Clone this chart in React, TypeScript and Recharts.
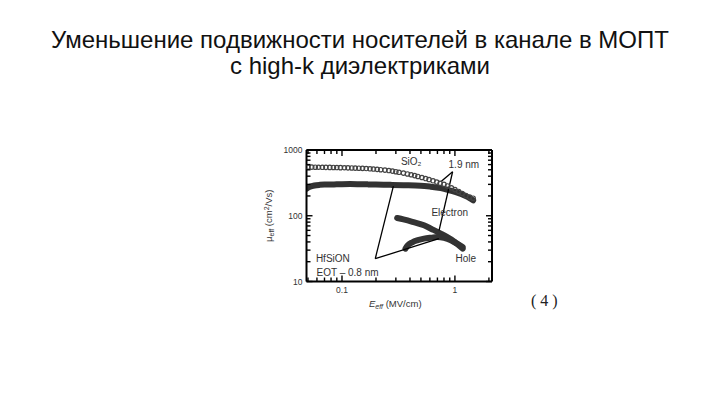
import React from 'react';
import { ComposedChart, Line, Scatter, XAxis, YAxis, ReferenceDot, Label } from 'recharts';

// SiO2, electrons (open circles)
const sio2ElecE = [0.05, 0.054, 0.058, 0.062, 0.067, 0.072, 0.078, 0.084, 0.09, 0.097, 0.105, 0.113, 0.122, 0.131, 0.141, 0.152, 0.164, 0.177, 0.19, 0.205, 0.22, 0.24, 0.26, 0.28, 0.3, 0.32, 0.35, 0.38, 0.41, 0.44, 0.47, 0.51, 0.55, 0.59, 0.64, 0.69, 0.74, 0.8, 0.86, 0.93, 1.0, 1.08, 1.16, 1.25, 1.35, 1.45];
const sio2ElecMu = [550, 549, 548, 547, 546, 545, 544, 543, 541, 539, 537, 535, 533, 531, 529, 526, 522, 518, 513, 508, 502, 495, 487, 478, 468, 458, 445, 432, 420, 408, 396, 382, 368, 355, 340, 325, 312, 300, 284, 266, 250, 234, 218, 203, 192, 185];

// HfSiON, electrons (dark band)
const hfElecE = [0.0486, 0.052, 0.057, 0.0637, 0.072, 0.085, 0.1, 0.118, 0.14, 0.17, 0.2, 0.268, 0.35, 0.497, 0.6, 0.75, 0.88, 1.02, 1.15, 1.25, 1.35, 1.45];
const hfElecMu = [258, 275, 288, 295, 298, 300, 302, 303, 302, 300, 298, 295, 292, 287, 278, 263, 246, 229, 212, 199, 186, 172];

// SiO2, holes
const sio2HoleE = [0.308, 0.35, 0.42, 0.532, 0.62, 0.75, 0.9, 1.02, 1.17];
const sio2HoleMu = [92.5, 88, 81, 71.6, 63, 53.5, 45, 39, 33.4];

// HfSiON, holes
const hfHoleE = [0.365, 0.38, 0.42, 0.47, 0.532, 0.62, 0.7, 0.8, 0.92, 1.05, 1.17];
const hfHoleMu = [31.6, 35, 39.5, 42.5, 44.9, 46.5, 47.5, 46, 42.3, 37, 31.6];

// annotation lines
const hfLineA = [{ x: 0.197, y: 22.2 }, { x: 0.285, y: 282 }];
const hfLineB = [{ x: 0.197, y: 22.2 }, { x: 0.72, y: 45 }];
const oxLineA = [{ x: 0.954, y: 467 }, { x: 0.75, y: 328 }];
const oxLineB = [{ x: 0.954, y: 467 }, { x: 0.724, y: 60 }];

const xTicks = [0.05, 0.06, 0.07, 0.08, 0.09, 0.1, 0.2, 0.3, 0.4, 0.5, 0.6, 0.7, 0.8, 0.9, 1, 2];
const xMajor = [0.1, 1];
const yTicks = [10, 20, 30, 40, 50, 60, 70, 80, 90, 100, 200, 300, 400, 500, 600, 700, 800, 900, 1000];
const yMajor = [10, 100, 1000];

const pts = (xs: number[], ys: number[]) => xs.map((x, i) => ({ x, y: ys[i] }));

const XTick = (p: any) => {
  const { x, y, payload, side } = p;
  const major = xMajor.includes(payload.value);
  const len = major ? 6 : 4;
  if (side === 'top') return <path d={`M${x},${y}V${y + len}`} stroke="#000" strokeWidth={1.4} fill="none" />;
  return (
    <g>
      <path d={`M${x},${y}V${y - len}`} stroke="#000" strokeWidth={1.4} fill="none" />
      {major && <text x={x} y={y + 11} textAnchor="middle" fontSize={8.5} fill="#333">{payload.value}</text>}
    </g>
  );
};

const YTick = (p: any) => {
  const { x, y, payload, side } = p;
  const major = yMajor.includes(payload.value);
  const len = major ? 6 : 4;
  if (side === 'right') return <path d={`M${x},${y}H${x - len}`} stroke="#000" strokeWidth={1.4} fill="none" />;
  return (
    <g>
      <path d={`M${x},${y}H${x + len}`} stroke="#000" strokeWidth={1.4} fill="none" />
      {major && <text x={x - 4} y={y + 3} textAnchor="end" fontSize={8.5} fill="#333">{payload.value}</text>}
    </g>
  );
};

const Circle = (p: any) => <circle cx={p.cx} cy={p.cy} r={2.2} fill="none" stroke="#444" strokeWidth={1.2} />;

export default function App() {
  const band = { stroke: '#333', strokeWidth: 6, strokeLinecap: 'round' as const, dot: false, isAnimationActive: false, type: 'monotone' as const };
  const ann = { stroke: '#000', strokeWidth: 1.3, dot: false, isAnimationActive: false, type: 'linear' as const };
  const txt = { position: 'center' as const, fontSize: 10, fill: '#333' };
  return (
    <div style={{ position: 'absolute', left: 0, top: 0, width: 720, height: 405, background: '#fff', fontFamily: '"Liberation Sans", Arial, sans-serif' }}>
      <div style={{ position: 'absolute', left: 0, width: 720, top: 27, textAlign: 'center', fontSize: 24, lineHeight: '26px', color: '#111' }}>
        Уменьшение подвижности носителей в канале в МОПТ
        <br />
        с high-k диэлектриками
      </div>
      <div style={{ position: 'absolute', left: 250, top: 130 }}>
        <ComposedChart width={260} height={190} margin={{ top: 19, right: 17, bottom: 8.5, left: 16.5 }}>
          <XAxis dataKey="x" type="number" scale="log" domain={[0.0485, 2.13]} allowDataOverflow ticks={xTicks} interval={0}
            tickSize={0} tickMargin={0} tickLine={false} axisLine={{ stroke: '#000', strokeWidth: 2 }} height={30}
            tick={(p: any) => <XTick {...p} side="bottom" />}>
            <Label content={(lp: any) => {
              const vb = lp.viewBox;
              return (
                <text x={vb.x + vb.width / 2 - 4} y={vb.y + 25} textAnchor="middle" fontSize={9.5} fill="#333">
                  <tspan fontStyle="italic">E</tspan><tspan fontSize={7} dy={2} fontStyle="italic">eff</tspan><tspan dy={-2}> (MV/cm)</tspan>
                </text>
              );
            }} />
          </XAxis>
          <XAxis xAxisId="top" orientation="top" dataKey="x" type="number" scale="log" domain={[0.0485, 2.13]} allowDataOverflow ticks={xTicks} interval={0}
            tickSize={0} tickMargin={0} tickLine={false} axisLine={{ stroke: '#000', strokeWidth: 2 }} height={1}
            tick={(p: any) => <XTick {...p} side="top" />} />
          <YAxis dataKey="y" type="number" scale="log" domain={[10, 1000]} allowDataOverflow ticks={yTicks} interval={0}
            tickSize={0} tickMargin={0} tickLine={false} axisLine={{ stroke: '#000', strokeWidth: 2 }} width={40}
            tick={(p: any) => <YTick {...p} side="left" />}>
            <Label content={(lp: any) => {
              const vb = lp.viewBox;
              const cx = vb.x + 5.5;
              const cy = vb.y + vb.height / 2;
              return (
                <text x={cx} y={cy} transform={`rotate(-90, ${cx}, ${cy})`} textAnchor="middle" fontSize={9.5} fill="#333">
                  <tspan>μ</tspan><tspan fontSize={7} dy={2}>eff</tspan><tspan dy={-2}> (cm</tspan><tspan fontSize={7} dy={-3}>2</tspan><tspan dy={3}>/Vs)</tspan>
                </text>
              );
            }} />
          </YAxis>
          <YAxis yAxisId="right" orientation="right" dataKey="y" type="number" scale="log" domain={[10, 1000]} allowDataOverflow ticks={yTicks} interval={0}
            tickSize={0} tickMargin={0} tickLine={false} axisLine={{ stroke: '#000', strokeWidth: 2 }} width={1}
            tick={(p: any) => <YTick {...p} side="right" />} />

          <Line data={pts(hfElecE, hfElecMu)} dataKey="y" {...band} />
          <Line data={pts(sio2HoleE, sio2HoleMu)} dataKey="y" {...band} />
          <Line data={pts(hfHoleE, hfHoleMu)} dataKey="y" {...band} />
          <Scatter data={pts(sio2ElecE, sio2ElecMu)} dataKey="y" shape={Circle} isAnimationActive={false} />

          <Line data={hfLineA} dataKey="y" {...ann} />
          <Line data={hfLineB} dataKey="y" {...ann} />
          <Line data={oxLineA} dataKey="y" {...ann} />
          <Line data={oxLineB} dataKey="y" {...ann} />

          <ReferenceDot x={0.41} y={663} r={0} label={{ value: 'SiO₂', ...txt }} />
          <ReferenceDot x={1.2} y={611} r={0} label={{ value: '1.9 nm', ...txt }} />
          <ReferenceDot x={0.9} y={114} r={0} label={{ value: 'Electron', ...txt }} />
          <ReferenceDot x={1.25} y={22.7} r={0} label={{ value: 'Hole', ...txt }} />
          <ReferenceDot x={0.083} y={22.7} r={0} label={{ value: 'HfSiON', ...txt }} />
          <ReferenceDot x={0.112} y={13.9} r={0} label={{ value: 'EOT – 0.8 nm', ...txt }} />
        </ComposedChart>
      </div>
      <div style={{ position: 'absolute', left: 531, top: 292, fontFamily: '"Liberation Serif", "Times New Roman", serif', fontSize: 16, color: '#222', whiteSpace: 'pre' }}>
        ( 4 )
      </div>
    </div>
  );
}
